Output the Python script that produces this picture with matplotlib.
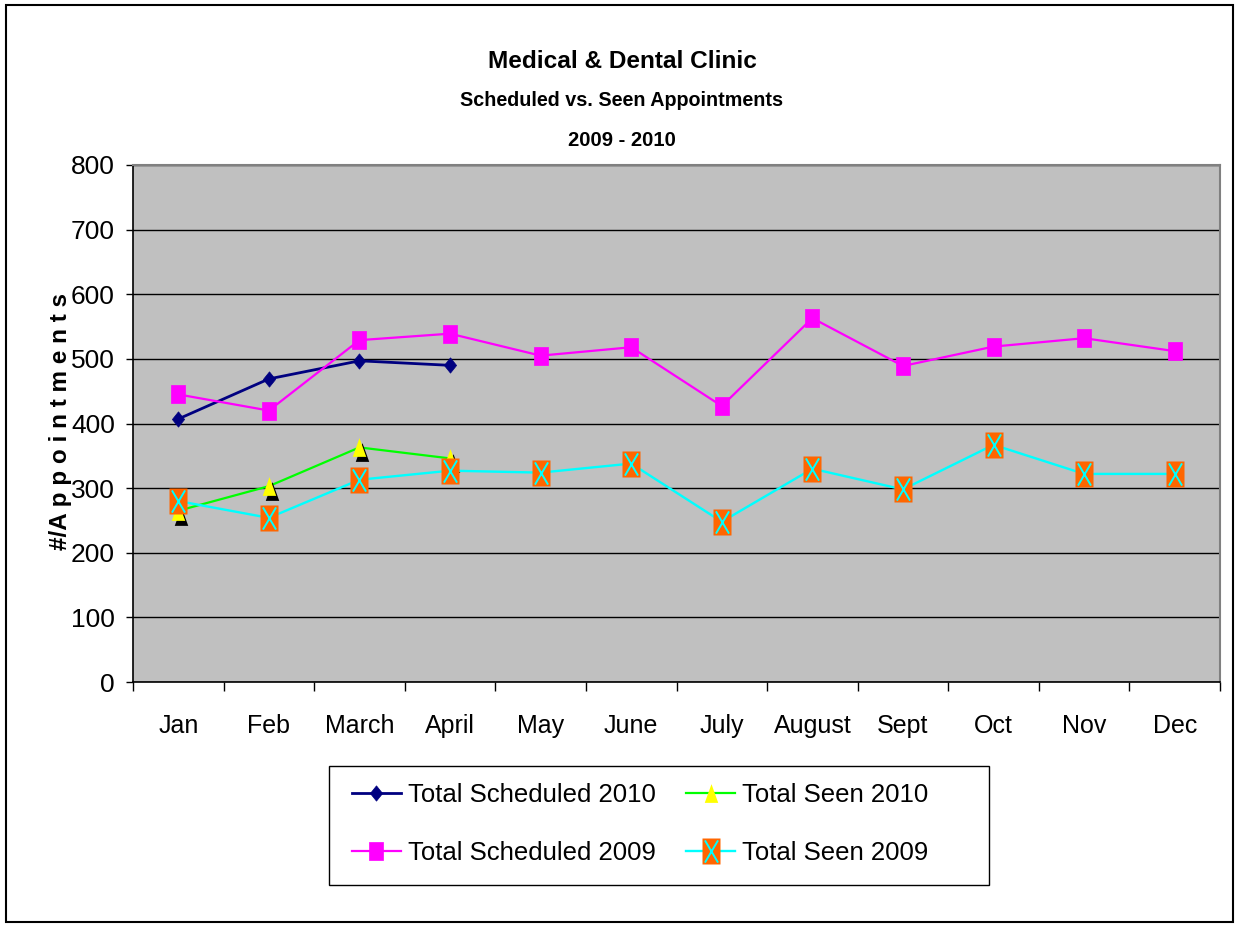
import numpy as np
import matplotlib
matplotlib.use('Agg')
import matplotlib.pyplot as plt
from matplotlib.path import Path
from matplotlib.lines import Line2D
from matplotlib.patches import Rectangle
from matplotlib.legend_handler import HandlerTuple
import matplotlib.transforms as mtransforms
from matplotlib import font_manager

# ---------------- data ----------------
months = ['Jan', 'Feb', 'March', 'April', 'May', 'June', 'July', 'August',
          'Sept', 'Oct', 'Nov', 'Dec']
sched_2010 = [407, 469, 497, 490]
seen_2010 = [265, 303, 363, 346]
sched_2009 = [445, 420, 529, 539, 505, 518, 427, 563, 489, 519, 532, 512]
seen_2009 = [280, 254, 313, 327, 324, 338, 248, 330, 298, 367, 322, 322]
yticks = [0, 100, 200, 300, 400, 500, 600, 700, 800]
labels = ['Total Scheduled 2010', 'Total Seen 2010',
          'Total Scheduled 2009', 'Total Seen 2009']

# ---------------- fonts ----------------
names = {f.name for f in font_manager.fontManager.ttflist}
NARROW = 'Liberation Sans Narrow' if 'Liberation Sans Narrow' in names else 'Liberation Sans'
REG = 'Liberation Sans'

W, H = 1235, 925
fig = plt.figure(figsize=(W / 100, H / 100), dpi=100)


def fx(px):
    return px / W


def fy(py):
    return 1 - py / H


ax = fig.add_axes([fx(133), fy(682), fx(1220) - fx(133), fy(165) - fy(682)])
ax.set_facecolor('#C0C0C0')

# ---------------- markers ----------------
def rect(w):
    return Path([(-w, -1), (w, -1), (w, 1), (-w, 1), (-w, -1)],
                [Path.MOVETO, Path.LINETO, Path.LINETO, Path.LINETO, Path.CLOSEPOLY])


diamond = Path([(0, 1), (0.8, 0), (0, -1), (-0.8, 0), (0, 1)],
               [Path.MOVETO, Path.LINETO, Path.LINETO, Path.LINETO, Path.CLOSEPOLY])
tri = Path([(0, 1), (0.72, -1), (-0.72, -1), (0, 1)],
           [Path.MOVETO, Path.LINETO, Path.LINETO, Path.CLOSEPOLY])
xmark = Path([(-0.59, -1), (0.59, 1), (-0.59, 1), (0.59, -1)],
             [Path.MOVETO, Path.LINETO, Path.MOVETO, Path.LINETO])
sq = rect(0.76)
box = rect(0.72)

NAVY, GREEN, YELLOW, MAG, CYAN, ORANGE = '#000080', '#00FF00', '#FFFF00', '#FF00FF', '#00FFFF', '#FF6600'

x = np.arange(len(months))
x10 = x[:len(sched_2010)]

# Total Scheduled 2010
ax.plot(x10, sched_2010, color=NAVY, lw=2.0, marker=diamond, ms=11,
        mfc=NAVY, mec=NAVY, mew=0.5, zorder=3)

# Total Seen 2010 (with shadow)
ax.plot(x10, seen_2010, color=GREEN, lw=1.6, zorder=4)
shadow = mtransforms.offset_copy(ax.transData, fig=fig, x=3, y=-5, units='dots')
ax.plot(x10, seen_2010, ls='none', marker=tri, ms=13.5, mfc='black', mec='none',
        transform=shadow, zorder=4.1)
ax.plot(x10, seen_2010, ls='none', marker=tri, ms=13.5, mfc=YELLOW, mec='none', zorder=4.2)

# Total Scheduled 2009
ax.plot(x, sched_2009, color=MAG, lw=1.6, marker=sq, ms=12.5,
        mfc=MAG, mec=MAG, mew=0.5, zorder=5)

# Total Seen 2009
ax.plot(x, seen_2009, color=CYAN, lw=1.7, zorder=6)
ax.plot(x, seen_2009, ls='none', marker=box, ms=18.5, mfc=ORANGE, mec='none', zorder=6.1)
ax.plot(x, seen_2009, ls='none', marker=xmark, ms=16, mfc='none', mec=CYAN,
        mew=1.4, zorder=6.2)

# ---------------- axes ----------------
ax.set_xlim(-0.5, len(months) - 0.5)
ax.set_ylim(yticks[0], yticks[-1])
ax.set_yticks(yticks)
ax.set_xticks(np.arange(-0.5, len(months), 1))
ax.set_xticklabels([])
ax.set_xticks(x, minor=True)
ax.set_xticklabels(months, minor=True, family=NARROW)
for t in ax.get_yticklabels():
    t.set_family(NARROW)
ax.tick_params(axis='x', which='major', direction='out', length=6.5, width=1, color='black')
ax.tick_params(axis='x', which='minor', length=0, pad=23, labelsize=18)
ax.tick_params(axis='y', direction='out', length=5, width=1, pad=8, labelsize=19)
ax.yaxis.grid(True, color='black', lw=1)
ax.set_axisbelow(True)
for s in ['left', 'bottom']:
    ax.spines[s].set_color('black')
    ax.spines[s].set_linewidth(1.2)
for s in ['top', 'right']:
    ax.spines[s].set_color('#808080')
    ax.spines[s].set_linewidth(1.5)

# ---------------- titles ----------------
fig.text(fx(622), fy(62), 'Medical & Dental Clinic', ha='center', va='center',
         fontsize=17.6, weight='bold', family=NARROW)
fig.text(fx(622), fy(101), 'Scheduled vs. Seen Appointments', ha='center', va='center',
         fontsize=14.2, weight='bold', family=NARROW)
fig.text(fx(622), fy(141), '2009 - 2010', ha='center', va='center',
         fontsize=14.6, weight='bold', family=NARROW)
fig.text(fx(60), fy(422), '#/A p p o i n t m e n t s', rotation=90, ha='center', va='center',
         fontsize=17.5, weight='bold', family=REG)

# ---------------- legend ----------------
h1 = Line2D([], [], color=NAVY, lw=2.0, marker=diamond, ms=11, mfc=NAVY, mec=NAVY, mew=0.5)
h2 = Line2D([], [], color=GREEN, lw=1.6, marker=tri, ms=13.5, mfc=YELLOW, mec='none')
h3 = Line2D([], [], color=MAG, lw=1.6, marker=sq, ms=12.5, mfc=MAG, mec=MAG, mew=0.5)
h4a = Line2D([], [], color=CYAN, lw=1.7, marker=box, ms=18.5, mfc=ORANGE, mec='none')
h4b = Line2D([], [], ls='none', marker=xmark, ms=16, mfc='none', mec=CYAN, mew=1.4)
handles = [h1, h3, h2, (h4a, h4b)]
leg_labels = [labels[0], labels[2], labels[1], labels[3]]
fig.legend(handles, leg_labels, loc='center left', bbox_to_anchor=(fx(352), fy(824)),
           ncol=2, frameon=False, borderpad=0, borderaxespad=0,
           handlelength=1.9, handletextpad=0.27,
           columnspacing=1.2, labelspacing=1.3,
           prop={'family': NARROW, 'size': 18.5},
           handler_map={tuple: HandlerTuple(ndivide=1)})
fig.patches.append(Rectangle((fx(329), fy(885)), fx(989) - fx(329), fy(766) - fy(885),
                             transform=fig.transFigure, fill=False, edgecolor='black', lw=1))
fig.patches.append(Rectangle((fx(6), fy(922)), fx(1233) - fx(6), fy(5) - fy(922),
                             transform=fig.transFigure, fill=False, edgecolor='black', lw=1.5))

fig.savefig('out.png', dpi=100)
